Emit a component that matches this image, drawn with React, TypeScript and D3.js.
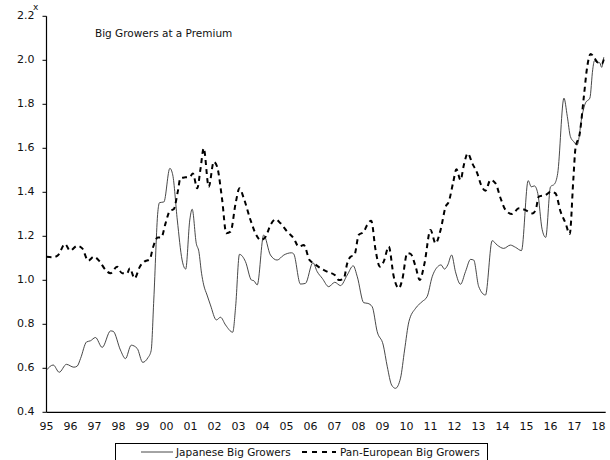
import React from "react";
import * as d3 from "d3";

const jpYears = [
  1995.0, 1995.28, 1995.53, 1995.83, 1996.14, 1996.28, 1996.42, 1996.67, 1996.83, 1997.04,
  1997.32, 1997.67, 1997.78, 1998.08, 1998.29, 1998.53, 1998.78, 1999.01, 1999.22, 1999.36,
  1999.47, 1999.64, 1999.71, 1999.89, 2000.14, 2000.26, 2000.45, 2000.65, 2000.8, 2000.97,
  2001.07, 2001.24, 2001.35, 2001.46, 2001.55, 2001.69, 2001.83, 2002.08, 2002.25, 2002.46,
  2002.76, 2002.88, 2003.04, 2003.29, 2003.54, 2003.64, 2003.78, 2004.05, 2004.33, 2004.61,
  2004.89, 2005.21, 2005.3, 2005.58, 2005.79, 2006.1, 2006.28, 2006.49, 2006.76, 2007.01,
  2007.25, 2007.53, 2007.78, 2007.95, 2008.22, 2008.39, 2008.57, 2008.78, 2009.03, 2009.2,
  2009.38, 2009.54, 2009.75, 2009.92, 2010.1, 2010.38, 2010.65, 2010.86, 2011.07, 2011.3,
  2011.44, 2011.58, 2011.72, 2011.88, 2012.04, 2012.25, 2012.46, 2012.67, 2012.8, 2013.01,
  2013.29, 2013.57, 2013.78, 2014.05, 2014.33, 2014.54, 2014.79, 2015.07, 2015.2, 2015.33,
  2015.47, 2015.65, 2015.8, 2016.0, 2016.17, 2016.3, 2016.56, 2016.7, 2016.83, 2016.97,
  2017.11, 2017.32, 2017.46, 2017.64, 2017.76, 2017.83, 2017.94, 2018.05, 2018.13, 2018.22,
];
const jpValues = [
  0.592, 0.615, 0.582, 0.618, 0.605, 0.61, 0.645, 0.72, 0.725, 0.74,
  0.695, 0.77, 0.768, 0.683, 0.644, 0.705, 0.69, 0.627, 0.647, 0.68,
  0.91, 1.312, 1.353, 1.356, 1.509, 1.479, 1.274, 1.092, 1.051, 1.274,
  1.323, 1.168, 1.13, 1.032, 0.979, 0.933, 0.888, 0.82, 0.832, 0.797,
  0.764, 0.88, 1.118, 1.085, 1.001, 0.998, 0.979, 1.206, 1.115, 1.092,
  1.115, 1.125, 1.12, 0.983, 0.986, 1.08, 1.039, 1.009, 0.971, 0.991,
  0.976, 1.024, 1.066, 1.016, 0.898, 0.895, 0.88, 0.766, 0.706, 0.607,
  0.524, 0.509, 0.555, 0.683, 0.812, 0.873, 0.903, 0.926, 1.016, 1.062,
  1.07, 1.051, 1.07, 1.115, 1.039, 0.982, 1.04, 1.095, 1.092, 0.971,
  0.933, 1.18, 1.16, 1.145, 1.16, 1.15, 1.135, 1.453, 1.425, 1.429,
  1.395, 1.232, 1.195, 1.425, 1.438, 1.486, 1.828, 1.745, 1.653, 1.63,
  1.615, 1.751, 1.807, 1.828, 1.959, 1.998, 1.989, 1.989, 1.968, 2.014,
];

const euYears = [
  1995.0, 1995.28, 1995.49, 1995.77, 1995.98, 1996.28, 1996.49, 1996.74, 1996.97, 1997.22,
  1997.46, 1997.67, 1997.94, 1998.15, 1998.36, 1998.47, 1998.67, 1998.89, 1999.08, 1999.3,
  1999.44, 1999.64, 1999.78, 1999.96, 2000.14, 2000.3, 2000.47, 2000.58, 2000.79, 2000.97,
  2001.1, 2001.28, 2001.42, 2001.55, 2001.76, 2001.97, 2002.11, 2002.32, 2002.49, 2002.67,
  2002.88, 2003.04, 2003.22, 2003.5, 2003.74, 2003.92, 2004.13, 2004.33, 2004.55, 2004.75,
  2005.03, 2005.3, 2005.51, 2005.72, 2005.96, 2006.14, 2006.42, 2006.7, 2007.01, 2007.18,
  2007.39, 2007.53, 2007.67, 2007.83, 2008.01, 2008.22, 2008.36, 2008.53, 2008.71, 2008.89,
  2009.05, 2009.26, 2009.47, 2009.68, 2009.82, 2010.03, 2010.17, 2010.38, 2010.55, 2010.75,
  2011.0, 2011.21, 2011.42, 2011.63, 2011.76, 2011.95, 2012.08, 2012.25, 2012.39, 2012.55,
  2012.74, 2012.95, 2013.11, 2013.29, 2013.5, 2013.71, 2013.92, 2014.13, 2014.4, 2014.68,
  2014.96, 2015.24, 2015.38, 2015.51, 2015.79, 2016.03, 2016.21, 2016.42, 2016.63, 2016.8,
  2016.95, 2017.04, 2017.22, 2017.39, 2017.53, 2017.67, 2017.8, 2017.94, 2018.05, 2018.15,
  2018.22,
];
const euValues = [
  1.107, 1.105, 1.115, 1.165, 1.135, 1.157, 1.145, 1.089, 1.107, 1.085,
  1.047, 1.032, 1.062, 1.032, 1.032, 1.055, 1.009, 1.062, 1.085, 1.095,
  1.15, 1.195, 1.195, 1.259, 1.316, 1.323, 1.403, 1.464, 1.468, 1.47,
  1.486, 1.418, 1.509, 1.6, 1.425, 1.539, 1.516, 1.365, 1.214, 1.221,
  1.35, 1.418, 1.373, 1.274, 1.206, 1.183, 1.198, 1.251, 1.277, 1.259,
  1.221, 1.191, 1.153, 1.16, 1.092, 1.077, 1.055, 1.039, 1.024, 1.001,
  1.009, 1.077, 1.107, 1.115, 1.206, 1.221, 1.251, 1.271, 1.138, 1.062,
  1.085, 1.153, 1.016, 0.964, 1.001, 1.123, 1.12, 1.062, 1.001, 1.077,
  1.229, 1.168, 1.229, 1.334, 1.357, 1.448, 1.505, 1.456, 1.524, 1.577,
  1.532, 1.486, 1.433, 1.407, 1.456, 1.441, 1.373, 1.319, 1.301, 1.327,
  1.319, 1.304, 1.319, 1.38, 1.388, 1.403, 1.395, 1.312, 1.259, 1.21,
  1.456, 1.6, 1.668, 1.835, 1.971, 2.029, 2.016, 1.993, 1.986, 1.986,
  2.004,
];

const yTicks = [0.4, 0.6, 0.8, 1.0, 1.2, 1.4, 1.6, 1.8, 2.0, 2.2];
const xTickYears = d3.range(1995, 2019);
const seriesNames = ["Japanese Big Growers", "Pan-European Big Growers"];
const title = "Big Growers at a Premium";

const W = 610;
const H = 460;
const FONT = "'DejaVu Sans', sans-serif";

export default function App() {
  const x = d3.scaleLinear().domain([1995, 2018.3]).range([46.5, 605.7]);
  const y = d3.scaleLinear().domain([0.4, 2.2]).range([412.3, 16.3]);

  const line = d3
    .line<[number, number]>()
    .x((d) => x(d[0]))
    .y((d) => y(d[1]))
    .curve(d3.curveMonotoneX);

  const jp = jpYears.map((t, i) => [t, jpValues[i]] as [number, number]);
  const eu = euYears.map((t, i) => [t, euValues[i]] as [number, number]);

  const x0 = x(1995);
  const x1 = 605.7;
  const yBase = y(0.4);

  return (
    <svg
      width={W}
      height={H}
      style={{ position: "absolute", left: 0, top: 0, background: "#fff" }}
      fontFamily={FONT}
    >
      <rect x={0} y={0} width={W} height={H} fill="#fff" />
      {/* title */}
      <text x={95} y={37} fontSize={10.5} fill="#111">
        {title}
      </text>
      {/* y axis */}
      <line x1={x0} x2={x0} y1={y(2.2)} y2={yBase} stroke="#000" strokeWidth={1.2} />
      {yTicks.map((t) => (
        <g key={t}>
          <line x1={x0 - 4} x2={x0} y1={y(t)} y2={y(t)} stroke="#000" strokeWidth={1} />
          <text
            x={x0 - 12}
            y={y(t)}
            fontSize={11}
            textAnchor="end"
            dominantBaseline="middle"
            fill="#111"
          >
            {t.toFixed(1)}
          </text>
        </g>
      ))}
      <text x={33} y={10} fontSize={9} fill="#111">
        x
      </text>
      {/* x axis */}
      <line x1={x0} x2={x1} y1={yBase} y2={yBase} stroke="#000" strokeWidth={1.2} />
      {xTickYears.map((yr) => (
        <text
          key={yr}
          x={x(yr)}
          y={430}
          fontSize={11}
          textAnchor="middle"
          fill="#111"
        >
          {String(yr % 100).padStart(2, "0")}
        </text>
      ))}
      {/* series */}
      <path d={line(jp) || ""} fill="none" stroke="#333" strokeWidth={0.9} />
      <path
        d={line(eu) || ""}
        fill="none"
        stroke="#000"
        strokeWidth={2}
        strokeDasharray="5,4"
      />
      {/* legend */}
      <rect x={115.5} y={443.5} width={372} height={30} fill="#fff" stroke="#000" strokeWidth={1} />
      <line x1={141} x2={173} y1={452} y2={452} stroke="#333" strokeWidth={0.9} />
      <text x={176} y={456} fontSize={10.5} fill="#111">
        {seriesNames[0]}
      </text>
      <line
        x1={302}
        x2={336}
        y1={452}
        y2={452}
        stroke="#000"
        strokeWidth={2}
        strokeDasharray="5,5"
      />
      <text x={340} y={456} fontSize={10.5} fill="#111">
        {seriesNames[1]}
      </text>
    </svg>
  );
}
